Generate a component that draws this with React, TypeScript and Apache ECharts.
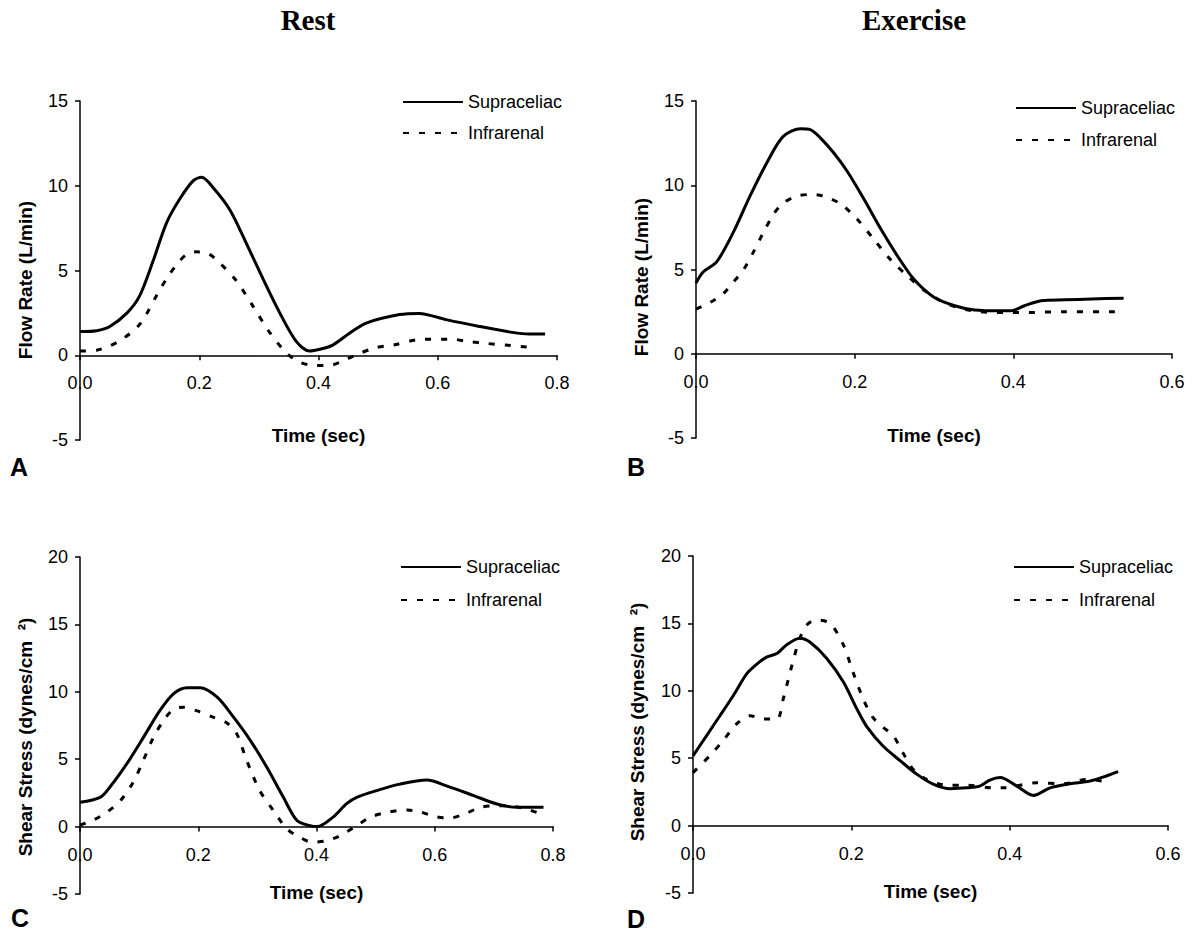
import React, { useEffect, useRef } from "react";
import * as echarts from "echarts";

// Panel A – Rest, flow rate (L/min)
const restFlowSupraTime = [0, 0.028, 0.05, 0.079, 0.1, 0.123, 0.145, 0.167, 0.19, 0.204, 0.223, 0.251, 0.279, 0.307, 0.335, 0.363, 0.385, 0.402, 0.424, 0.452, 0.48, 0.536, 0.569, 0.614, 0.67, 0.725, 0.753, 0.78];
const restFlowSupra = [1.4, 1.45, 1.7, 2.5, 3.5, 5.6, 7.8, 9.2, 10.3, 10.5, 9.9, 8.6, 6.6, 4.5, 2.5, 0.8, 0.25, 0.35, 0.6, 1.3, 1.9, 2.4, 2.47, 2.1, 1.7, 1.35, 1.25, 1.25];
const restFlowInfraTime = [0, 0.028, 0.05, 0.073, 0.097, 0.111, 0.128, 0.145, 0.162, 0.179, 0.195, 0.212, 0.234, 0.262, 0.29, 0.318, 0.346, 0.368, 0.393, 0.418, 0.44, 0.465, 0.496, 0.525, 0.574, 0.625, 0.653, 0.681, 0.714, 0.761];
const restFlowInfra = [0.25, 0.3, 0.55, 1.0, 1.7, 2.4, 3.5, 4.5, 5.35, 5.95, 6.1, 6.05, 5.45, 4.4, 2.9, 1.35, 0.15, -0.4, -0.6, -0.6, -0.35, 0.05, 0.45, 0.6, 0.94, 0.94, 0.8, 0.7, 0.6, 0.45];

// Panel B – Exercise, flow rate (L/min)
const exFlowSupraTime = [0, 0.009, 0.026, 0.047, 0.068, 0.09, 0.11, 0.132, 0.144, 0.157, 0.174, 0.191, 0.212, 0.233, 0.254, 0.275, 0.3, 0.326, 0.351, 0.385, 0.397, 0.414, 0.435, 0.465, 0.499, 0.539];
const exFlowSupra = [4.2, 4.85, 5.45, 7.2, 9.35, 11.4, 12.9, 13.35, 13.3, 12.8, 11.9, 10.8, 9.15, 7.4, 5.8, 4.4, 3.35, 2.85, 2.6, 2.55, 2.55, 2.85, 3.15, 3.2, 3.25, 3.3];
const exFlowInfraTime = [0, 0.018, 0.034, 0.047, 0.06, 0.072, 0.085, 0.098, 0.11, 0.127, 0.144, 0.161, 0.182, 0.203, 0.224, 0.245, 0.267, 0.288, 0.317, 0.356, 0.397, 0.419, 0.465, 0.528];
const exFlowInfra = [2.65, 3.05, 3.55, 4.25, 5.0, 6.0, 7.2, 8.3, 8.95, 9.35, 9.45, 9.35, 8.9, 8.0, 6.8, 5.6, 4.6, 3.75, 2.95, 2.5, 2.45, 2.45, 2.5, 2.5];

// Panel C – Rest, shear stress (dynes/cm²)
const restShearSupraTime = [0, 0.034, 0.05, 0.079, 0.107, 0.135, 0.158, 0.181, 0.203, 0.232, 0.26, 0.288, 0.316, 0.344, 0.367, 0.389, 0.401, 0.428, 0.451, 0.468, 0.502, 0.541, 0.587, 0.621, 0.666, 0.705, 0.739, 0.784];
const restShearSupra = [1.8, 2.17, 2.9, 4.65, 6.6, 8.6, 9.85, 10.3, 10.3, 9.6, 8.1, 6.4, 4.4, 2.17, 0.45, 0.07, 0, 0.7, 1.7, 2.17, 2.67, 3.15, 3.45, 3.0, 2.3, 1.68, 1.43, 1.43];
const restShearInfraTime = [0, 0.023, 0.045, 0.068, 0.09, 0.107, 0.124, 0.141, 0.158, 0.175, 0.197, 0.226, 0.248, 0.265, 0.282, 0.304, 0.327, 0.35, 0.372, 0.392, 0.417, 0.44, 0.468, 0.491, 0.519, 0.553, 0.575, 0.601, 0.626, 0.651, 0.677, 0.705, 0.733, 0.756, 0.782];
const restShearInfra = [0.1, 0.5, 1.05, 1.9, 3.3, 4.9, 6.6, 7.85, 8.7, 8.85, 8.6, 8.1, 7.7, 6.9, 4.9, 2.67, 1.2, -0.17, -0.8, -1.15, -1.05, -0.67, 0.07, 0.7, 1.05, 1.23, 1.1, 0.74, 0.64, 0.94, 1.43, 1.55, 1.5, 1.3, 0.88];

// Panel D – Exercise, shear stress (dynes/cm²)
const exShearSupraTime = [0, 0.017, 0.034, 0.051, 0.068, 0.081, 0.093, 0.106, 0.118, 0.135, 0.148, 0.169, 0.19, 0.207, 0.22, 0.24, 0.262, 0.283, 0.304, 0.325, 0.346, 0.362, 0.375, 0.388, 0.409, 0.43, 0.451, 0.476, 0.501, 0.523, 0.537];
const exShearSupra = [5.17, 6.66, 8.15, 9.65, 11.27, 12.0, 12.5, 12.76, 13.4, 13.9, 13.6, 12.4, 10.65, 8.66, 7.3, 5.9, 4.8, 3.8, 3.06, 2.74, 2.8, 2.93, 3.38, 3.56, 2.93, 2.24, 2.8, 3.1, 3.3, 3.7, 4.0];
const exShearInfraTime = [0, 0.021, 0.038, 0.055, 0.072, 0.089, 0.106, 0.114, 0.125, 0.135, 0.144, 0.156, 0.173, 0.19, 0.202, 0.215, 0.227, 0.24, 0.253, 0.265, 0.278, 0.295, 0.321, 0.346, 0.379, 0.392, 0.434, 0.468, 0.498, 0.518];
const exShearInfra = [3.93, 5.17, 6.3, 7.54, 8.15, 7.9, 7.9, 9.4, 11.9, 13.9, 14.9, 15.25, 15.0, 13.4, 11.4, 9.4, 8.04, 7.3, 6.66, 5.42, 4.18, 3.43, 3.0, 3.0, 2.8, 2.8, 3.18, 3.1, 3.43, 3.3];

const seriesNames = ["Supraceliac", "Infrarenal"];
const columnTitles = ["Rest", "Exercise"];
const panelLetters = ["A", "B", "C", "D"];
const xAxisName = "Time (sec)";
const flowAxisName = "Flow Rate (L/min)";
const shearAxisName = "Shear Stress (dynes/cm  \u00B2)";

const SANS = "'Liberation Sans', Arial, sans-serif";
const SERIF = "'Liberation Serif', 'Times New Roman', serif";

const zip = (t: number[], v: number[]) => t.map((x, i) => [x, v[i]]);

export default function App() {
  const ref = useRef<HTMLDivElement>(null);

  useEffect(() => {
    if (!ref.current) return;
    const chart = echarts.init(ref.current, undefined, { renderer: "svg" });

    const grids = [
      { left: 80, top: 101, width: 477, height: 339 },
      { left: 696, top: 101, width: 476, height: 337 },
      { left: 80, top: 557, width: 473, height: 337 },
      { left: 693, top: 556, width: 475, height: 337 },
    ];
    const xMax = [0.8, 0.6, 0.8, 0.6];
    const xNameGap = [71, 72, 56, 56];
    const yMin = -5;
    const yMax = [15, 15, 20, 20];
    const yNames = [flowAxisName, flowAxisName, shearAxisName, shearAxisName];
    const yNameGap = [45, 45, 45, 46];
    const yNamePad = [
      [0, 19, 0, 0],
      [0, 15, 0, 0],
      [0, 23, 0, 0],
      [0, 0, 0, 5],
    ];

    const axisLineStyle = { color: "#000", width: 1.5 };

    const xAxis = grids.map((g, i) => ({
      type: "value",
      gridIndex: i,
      min: 0,
      max: xMax[i],
      interval: 0.2,
      // place the time axis on the zero line of the value axis
      offset: -(g.height * (0 - yMin)) / (yMax[i] - yMin),
      axisLine: { show: true, onZero: false, lineStyle: axisLineStyle },
      axisTick: { show: true, inside: false, length: 5, lineStyle: axisLineStyle },
      splitLine: { show: false },
      axisLabel: {
        color: "#000",
        fontSize: 18,
        fontFamily: SANS,
        margin: 19,
        formatter: (v: number) => v.toFixed(1),
      },
      name: xAxisName,
      nameLocation: "middle",
      nameGap: xNameGap[i],
      nameTextStyle: { color: "#000", fontSize: 19, fontWeight: "bold", fontFamily: SANS },
    }));

    const yAxis = grids.map((_, i) => ({
      type: "value",
      gridIndex: i,
      min: yMin,
      max: yMax[i],
      interval: 5,
      axisLine: { show: true, onZero: false, lineStyle: axisLineStyle },
      axisTick: { show: true, inside: false, length: 5, lineStyle: axisLineStyle },
      splitLine: { show: false },
      axisLabel: { color: "#000", fontSize: 18, fontFamily: SANS, margin: 12 },
      name: yNames[i],
      nameLocation: "middle",
      nameGap: yNameGap[i],
      nameTextStyle: {
        color: "#000",
        fontSize: 19,
        fontWeight: "bold",
        fontFamily: SANS,
        lineHeight: 19,
        padding: yNamePad[i],
      },
    }));

    const panelData = [
      [zip(restFlowSupraTime, restFlowSupra), zip(restFlowInfraTime, restFlowInfra)],
      [zip(exFlowSupraTime, exFlowSupra), zip(exFlowInfraTime, exFlowInfra)],
      [zip(restShearSupraTime, restShearSupra), zip(restShearInfraTime, restShearInfra)],
      [zip(exShearSupraTime, exShearSupra), zip(exShearInfraTime, exShearInfra)],
    ];

    const series: any[] = [];
    panelData.forEach((pair, i) => {
      pair.forEach((data, k) => {
        series.push({
          type: "line",
          name: seriesNames[k],
          xAxisIndex: i,
          yAxisIndex: i,
          data,
          smooth: 0.3,
          symbol: "none",
          showSymbol: false,
          lineStyle: { color: "#000", width: 3, type: k === 0 ? "solid" : [6, 10] },
          itemStyle: { color: "#000" },
        });
      });
    });

    const legendPos = [
      { left: 402, top: 93, itemGap: 13 },
      { left: 1015, top: 99, itemGap: 14 },
      { left: 400, top: 558, itemGap: 15 },
      { left: 1013, top: 558, itemGap: 15 },
    ];
    const legend = legendPos.map((p) => ({
      left: p.left,
      top: p.top,
      orient: "vertical",
      itemGap: p.itemGap,
      itemWidth: 60,
      itemHeight: 14,
      padding: 0,
      selectedMode: false,
      data: seriesNames,
      itemStyle: { opacity: 0 },
      textStyle: { color: "#000", fontSize: 18, fontFamily: SANS },
    }));

    const titlePos = [308, 914];
    const letterPos = [
      [10, 467],
      [627, 467],
      [11, 918],
      [627, 919],
    ];
    const graphic: any[] = [
      ...columnTitles.map((t, i) => ({
        type: "text",
        x: titlePos[i],
        y: 20,
        style: {
          text: t,
          fill: "#000",
          font: `bold 29px ${SERIF}`,
          textAlign: "center",
          textVerticalAlign: "middle",
        },
      })),
      ...panelLetters.map((t, i) => ({
        type: "text",
        x: letterPos[i][0],
        y: letterPos[i][1],
        style: {
          text: t,
          fill: "#000",
          font: `bold 25px ${SANS}`,
          textAlign: "left",
          textVerticalAlign: "middle",
        },
      })),
    ];

    chart.setOption({
      animation: false,
      backgroundColor: "#fff",
      grid: grids,
      xAxis,
      yAxis,
      series,
      legend,
      graphic,
    });

    return () => chart.dispose();
  }, []);

  return (
    <div
      ref={ref}
      style={{ position: "fixed", left: 0, top: 0, width: 1192, height: 935, background: "#fff" }}
    />
  );
}
